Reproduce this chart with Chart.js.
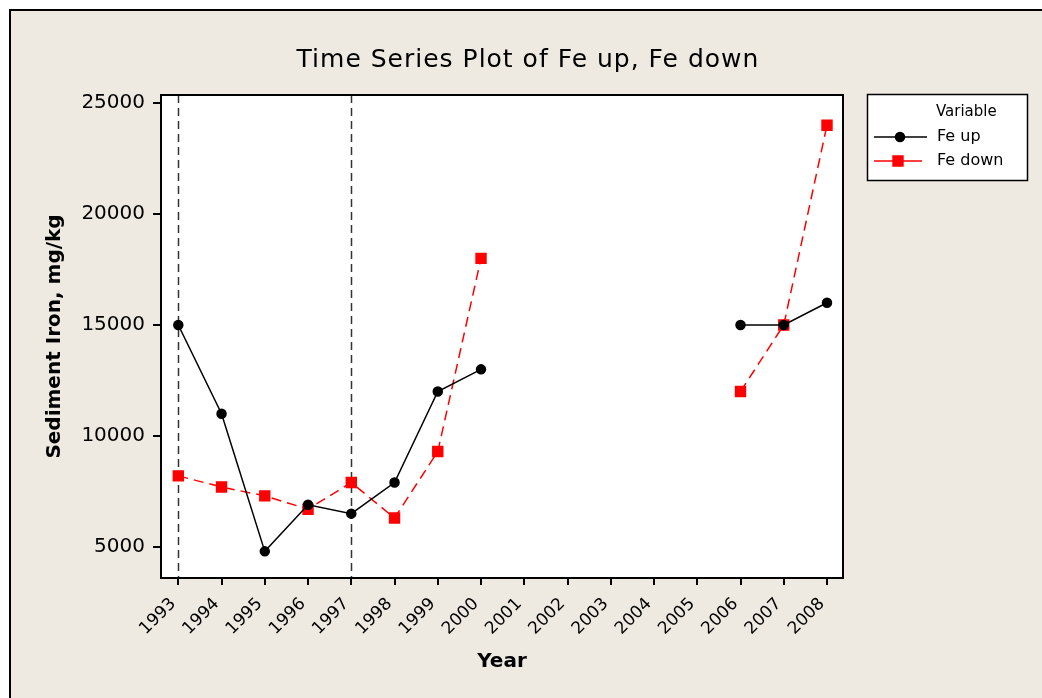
<!DOCTYPE html>
<html>
<head>
<meta charset="utf-8">
<title>Time Series Plot of Fe up, Fe down</title>
<script src="https://cdn.jsdelivr.net/npm/chart.js@4.4.0/dist/chart.umd.min.js"></script>
<style>
  html, body { margin: 0; padding: 0; background: #fff; overflow: hidden; }
  #frame {
    position: absolute; left: 9px; top: 9px; width: 1040px; height: 696px;
    background: #EEEAE1; border-left: 2px solid #000; border-top: 2px solid #000;
  }
  #wrap { position: absolute; left: 0; top: 0; width: 1042px; height: 698px; }
</style>
</head>
<body>
<div id="frame"></div>
<div id="wrap"><canvas id="chart"></canvas></div>
<script>
// --- dados ---
const years = [1993, 1994, 1995, 1996, 1997, 1998, 1999, 2000, 2001, 2002, 2003, 2004, 2005, 2006, 2007, 2008];
const feUp = [15000, 11000, 4800, 6900, 6500, 7900, 12000, 13000, null, null, null, null, null, 15000, 15000, 16000];
const feDown = [8200, 7700, 7300, 6700, 7900, 6300, 9300, 18000, null, null, null, null, null, 12000, 15000, 24000];
const yTicks = [5000, 10000, 15000, 20000, 25000];
const refYears = [1993, 1997];
const chartTitle = 'Time Series Plot of Fe up, Fe down';

const FONT = "'DejaVu Sans', Verdana, sans-serif";

const toPoints = (vals) => years.map((yr, i) => ({ x: yr, y: vals[i] }));

// --- plugin: fundo branco, título, linhas de referência, moldura e legenda ---
const plotExtras = {
  id: 'plotExtras',
  beforeDraw(chart) {
    const { ctx, chartArea: a } = chart;
    ctx.save();
    ctx.fillStyle = '#fff';
    ctx.fillRect(a.left, a.top, a.width, a.height);

    // título centrado na moldura inteira (não só na área do gráfico)
    ctx.fillStyle = '#000';
    ctx.font = `25px ${FONT}`;
    ctx.letterSpacing = '1px';
    ctx.textAlign = 'center';
    ctx.textBaseline = 'middle';
    ctx.fillText(chartTitle, 528, 60);
    ctx.restore();
  },
  beforeDatasetsDraw(chart) {
    const { ctx, chartArea: a, scales } = chart;
    ctx.save();
    ctx.strokeStyle = '#333';
    ctx.lineWidth = 1.5;
    ctx.setLineDash([8, 5]);
    refYears.forEach(yr => {
      const x = Math.round(scales.x.getPixelForValue(yr)) + 0.5;
      ctx.beginPath();
      ctx.moveTo(x, a.top);
      ctx.lineTo(x, a.bottom);
      ctx.stroke();
    });
    ctx.restore();
  },
  afterDraw(chart) {
    const { ctx, chartArea: a } = chart;
    ctx.save();
    ctx.strokeStyle = '#000';
    ctx.lineWidth = 2;
    ctx.strokeRect(a.left, a.top, a.width, a.height);

    // legenda
    const lx = 867, ly = 94, lw = 160, lh = 86;
    ctx.fillStyle = '#fff';
    ctx.fillRect(lx, ly, lw, lh);
    ctx.lineWidth = 1.5;
    ctx.strokeRect(lx + 0.5, ly + 0.5, lw, lh);
    ctx.fillStyle = '#000';
    ctx.font = `15px ${FONT}`;
    ctx.textBaseline = 'middle';
    ctx.textAlign = 'left';
    ctx.fillText('Variable', 936, 112);

    const rows = [137, 161];
    chart.data.datasets.forEach((ds, i) => {
      const y = rows[i];
      ctx.strokeStyle = ds.borderColor;
      ctx.lineWidth = ds.borderWidth;
      ctx.setLineDash([]);
      ctx.beginPath();
      ctx.moveTo(874, y);
      ctx.lineTo(i === 0 ? 927 : 922, y);
      ctx.stroke();
      Chart.helpers.drawPoint(ctx, {
        pointStyle: ds.pointStyle, radius: ds.pointRadius, borderWidth: 1, rotation: 0
      }, i === 0 ? 900 : 898, y);
      ctx.fillStyle = ds.pointBackgroundColor;
      ctx.strokeStyle = ds.pointBorderColor;
      ctx.fill();
      ctx.fillStyle = '#000';
      ctx.font = `16px ${FONT}`;
      ctx.fillText(ds.label, 937, y);
    });
    ctx.restore();
  }
};

new Chart(document.getElementById('chart'), {
  type: 'line',
  data: {
    datasets: [
      {
        label: 'Fe up',
        data: toPoints(feUp),
        borderColor: '#000',
        backgroundColor: '#000',
        pointBackgroundColor: '#000',
        pointBorderColor: '#000',
        borderWidth: 1.5,
        pointStyle: 'circle',
        pointRadius: 4.5,
        tension: 0,
        spanGaps: false
      },
      {
        label: 'Fe down',
        data: toPoints(feDown),
        borderColor: '#ff0000',
        backgroundColor: '#ff0000',
        pointBackgroundColor: '#ff0000',
        pointBorderColor: '#ff0000',
        borderWidth: 1.5,
        borderDash: [10, 6],
        pointStyle: 'rect',
        pointRadius: 7,
        tension: 0,
        spanGaps: false
      }
    ]
  },
  options: {
    responsive: true,
    maintainAspectRatio: false,
    animation: false,
    layout: { padding: { left: 0, top: 95, right: 199, bottom: 0 } },
    plugins: {
      legend: { display: false },
      tooltip: { enabled: false },
      title: { display: false }
    },
    scales: {
      x: {
        type: 'linear',
        min: 1992.6,
        max: 2008.37,
        afterBuildTicks: (scale) => { scale.ticks = years.map(v => ({ value: v })); },
        afterFit: (scale) => { scale.height = 120; },
        grid: { drawOnChartArea: false, drawTicks: true, tickLength: 7, color: '#000', lineWidth: 2 },
        border: { display: false },
        ticks: {
          autoSkip: false,
          minRotation: 45,
          maxRotation: 45,
          padding: 9,
          labelOffset: -5,
          color: '#000',
          font: { family: FONT, size: 17 },
          callback: (v) => String(v)
        },
        title: {
          display: true,
          text: 'Year',
          color: '#000',
          font: { family: FONT, size: 20, weight: 'bold' },
          padding: { top: 0, bottom: 24 }
        }
      },
      y: {
        type: 'linear',
        min: 3600,
        max: 25360,
        afterBuildTicks: (scale) => { scale.ticks = yTicks.map(v => ({ value: v })); },
        afterFit: (scale) => { scale.width = 161; },
        grid: { drawOnChartArea: false, drawTicks: true, tickLength: 8, color: '#000', lineWidth: 2 },
        border: { display: false },
        ticks: {
          padding: 8,
          color: '#000',
          font: { family: FONT, size: 20 },
          callback: (v) => String(v)
        },
        title: {
          display: true,
          text: 'Sediment Iron, mg/kg',
          color: '#000',
          font: { family: FONT, size: 20, weight: 'bold' },
          padding: { top: 43, bottom: 0 }
        }
      }
    }
  },
  plugins: [plotExtras]
});
</script>
</body>
</html>
